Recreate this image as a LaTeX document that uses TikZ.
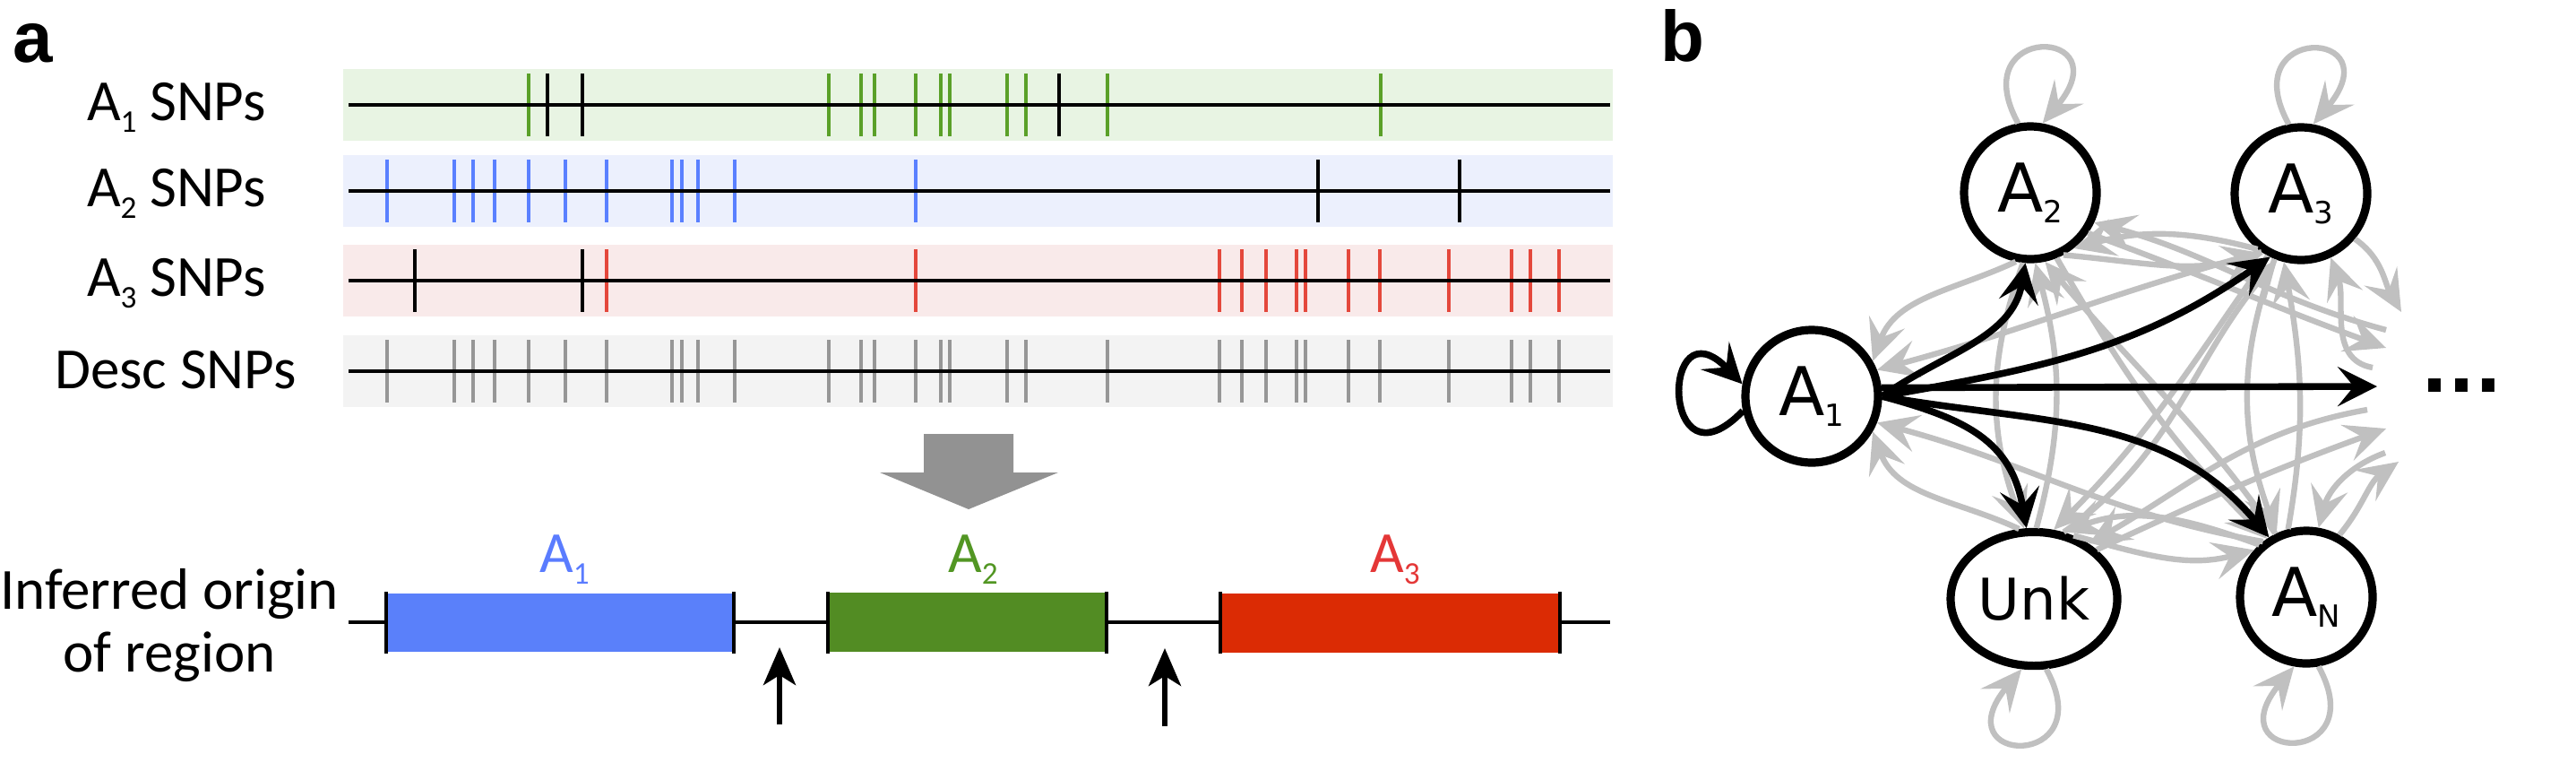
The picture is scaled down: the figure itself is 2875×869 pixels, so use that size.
\documentclass[tikz,border=0pt]{standalone}
\usepackage{fontspec}
\setmainfont{Carlito}
\newfontfamily\dvs{DejaVu Sans}
\newfontfamily\labfont{Liberation Sans}
\usetikzlibrary{arrows.meta,shapes.geometric}
\definecolor{bgG}{RGB}{232,244,227}
\definecolor{bgB}{RGB}{236,240,253}
\definecolor{bgR}{RGB}{249,234,234}
\definecolor{bgK}{RGB}{243,243,243}
\definecolor{tkG}{RGB}{90,160,40}
\definecolor{tkB}{RGB}{90,128,255}
\definecolor{tkR}{RGB}{228,72,60}
\definecolor{tkK}{RGB}{150,150,150}
\definecolor{boxB}{RGB}{90,128,250}
\definecolor{boxG}{RGB}{82,140,35}
\definecolor{boxR}{RGB}{219,43,4}
\definecolor{labB}{RGB}{90,124,255}
\definecolor{labG}{RGB}{82,150,35}
\definecolor{labR}{RGB}{228,55,55}
\definecolor{bigarrow}{RGB}{146,146,146}
\definecolor{edgegray}{RGB}{192,192,192}
\newcommand\asub[1]{\raisebox{-3.25pt}{\fontsize{8.8}{8.8}\selectfont #1}}
\newcommand\nsub[1]{\raisebox{-3pt}{\fontsize{8.5}{8.5}\selectfont #1}}
\tikzset{
  panellab/.style={anchor=base west, inner sep=0pt, font=\labfont\bfseries\fontsize{20}{20}\selectfont},
  rowlab/.style={anchor=base, inner sep=0pt, font=\fontsize{16.25}{17.5}\selectfont},
  tick/.style={line width=0.85pt},
  axisline/.style={line width=1.15pt},
  endtick/.style={line width=0.85pt},
  uparrow/.style={line width=1.5pt, -{Stealth[length=10.5pt,width=9pt,inset=2.75pt]}},
  st/.style={circle, draw, line width=2.3pt, fill=white, minimum size=37pt, inner sep=0pt, font=\dvs\fontsize{18.75}{18.75}\selectfont},
  stell/.style={ellipse, draw, line width=2.3pt, fill=white, minimum width=46.5pt, minimum height=37.3pt, inner sep=0pt, font=\dvs\fontsize{16}{16}\selectfont},
  bedge/.style={draw=black, line width=1.9pt, -{Stealth[length=11pt,width=11pt,inset=4.5pt]}},
  gedge/.style={draw=edgegray, line width=1.6pt, -{Stealth[length=11.5pt,width=10.5pt,inset=4.5pt]}},
}
\begin{document}
\begin{tikzpicture}[x=0.25pt,y=0.25pt]
\path[use as bounding box] (0,0) rectangle (2875,-869);

% ---------------- panel a ----------------
\node[panellab] (la) at (14,-69) {a};

\foreach \c/\y in {bgG/117, bgB/213, bgR/313, bgK/414}
  \fill[\c] (383,-\y+40) rectangle (1800,-\y-40);

% A1 row
\foreach \x in {590,925,961,976,1022,1050,1060,1124,1145,1236,1541}
  \draw[tick,tkG] (\x,-82) -- (\x,-152);
\foreach \x in {611,650,1182}
  \draw[tick,black] (\x,-82) -- (\x,-152);
% A2 row
\foreach \x in {432,507,528,552,590,631,677,750,761,779,820,1022}
  \draw[tick,tkB] (\x,-178) -- (\x,-248);
\foreach \x in {1471,1629}
  \draw[tick,black] (\x,-178) -- (\x,-248);
% A3 row
\foreach \x in {677,1022,1361,1386,1413,1447,1457,1505,1540,1617,1687,1708,1740}
  \draw[tick,tkR] (\x,-278) -- (\x,-348);
\foreach \x in {463,650}
  \draw[tick,black] (\x,-278) -- (\x,-348);
% Desc row
\foreach \x in {432,507,528,552,590,631,677,750,761,779,820,925,961,976,1022,1050,1060,1124,1145,1236,1361,1386,1413,1447,1457,1505,1540,1617,1687,1708,1740}
  \draw[tick,tkK] (\x,-379) -- (\x,-449);

\foreach \y in {117,213,313,414}
  \draw[axisline] (389,-\y) -- (1797,-\y);

\node[rowlab] (l1) at (197,-134) {A\asub{1} SNPs};
\node[rowlab] (l2) at (197,-230) {A\asub{2} SNPs};
\node[rowlab] (l3) at (197,-330) {A\asub{3} SNPs};
\node[rowlab] (l4) at (196,-433) {Desc SNPs};

% big grey arrow
\fill[bigarrow] (1031,-484) -- (1131,-484) -- (1131,-527) -- (1181,-527)
  -- (1081,-568) -- (982,-527) -- (1031,-527) -- cycle;

% inferred origin
\node[anchor=center, inner sep=0pt, align=center, font=\fontsize{16.25}{17.5}\selectfont] (inf) at (189,-697) {Inferred origin\\of region};
\draw[axisline] (389,-694) -- (1797,-694);
\fill[boxB] (431,-662) rectangle (819,-727);
\fill[boxG] (924,-661) rectangle (1235,-727);
\fill[boxR] (1362,-662) rectangle (1741,-728);
\foreach \x in {431,819,924,1235,1362,1741}
  \draw[endtick] (\x,-660) -- (\x,-729);
\node[rowlab, text=labB] (o1) at (630,-638) {A\asub{1}};
\node[rowlab, text=labG] (o2) at (1086,-638) {A\asub{2}};
\node[rowlab, text=labR] (o3) at (1557,-638) {A\asub{3}};

\coordinate (ar1s) at (870,-808);
\coordinate (ar1e) at (870,-722);
\coordinate (ar2s) at (1300,-810);
\coordinate (ar2e) at (1300,-723);
\draw[uparrow] (ar1s) -- (ar1e);
\draw[uparrow] (ar2s) -- (ar2e);

% ---------------- panel b ----------------
\node[panellab] (lb) at (1853,-68) {b};

\node[st] (A1) at (2022,-442) {A\nsub{1}};
\node[st] (A2) at (2266,-215) {A\nsub{2}};
\node[st] (A3) at (2568,-216) {A\nsub{3}};
\node[stell] (Unk) at (2270,-668) {Unk};
\node[st] (AN) at (2574,-666) {A\nsub{N}};
\node[anchor=base, inner sep=0pt, font=\dvs\bfseries\fontsize{19.75}{19.75}\selectfont] (dots) at (2747,-437) {...};

\coordinate (dend) at (2653,-431);
\coordinate (gA2o) at (2663,-388);
\coordinate (gA2i) at (2663,-368);
\coordinate (gA3o) at (2680,-348);
\coordinate (gA3i) at (2648,-410);
\coordinate (gUo) at (2663,-478);
\coordinate (gUi) at (2642,-457);
\coordinate (gNo) at (2677,-515);
\coordinate (gNi) at (2662,-505);

% grey self loops
\draw[gedge] (A2.100) .. controls +(-62,113) and +(90,108) .. (A2.80);
\draw[gedge] (A3.100) .. controls +(-62,113) and +(90,108) .. (A3.80);
\draw[gedge] (Unk.-80) .. controls +(62,-113) and +(-90,-108) .. (Unk.-100);
\draw[gedge] (AN.-80) .. controls +(62,-113) and +(-90,-108) .. (AN.-100);

% grey edges into A1
\draw[gedge] (A2.258) to[out=205,in=70] (A1.30);
\draw[gedge] (A3.236) to[out=195,in=15] (A1.22);
\draw[gedge] (Unk.102) to[out=155,in=-70] (A1.-30);
\draw[gedge] (AN.128) to[out=170,in=-15] (A1.-22);
% A2 - A3
\draw[gedge] (A3.232) to[out=165,in=15] (A2.-52);
\draw[gedge] (A2.-62) to[out=-5,in=195] (A3.238);
% A2 - Unk
\draw[gedge] (A2.264) to[out=250,in=110] (Unk.98);
\draw[gedge] (Unk.88) to[out=75,in=-75] (A2.274);
% A3 - AN
\draw[gedge] (A3.248) to[out=250,in=110] (AN.115);
\draw[gedge] (AN.105) to[out=80,in=-80] (A3.256);
% A2 - AN
\draw[gedge] (A2.-68) to[out=-60,in=135] (AN.124);
\draw[gedge] (AN.116) to[out=125,in=-50] (A2.-78);
% A3 - Unk
\draw[gedge] (A3.242) to[out=235,in=45] (Unk.74);
\draw[gedge] (Unk.66) to[out=35,in=230] (A3.250);
% Unk - AN
\draw[gedge] (Unk.58) to[out=-15,in=195] (AN.138);
\draw[gedge] (AN.132) to[out=160,in=20] (Unk.66);
% off to the right
\draw[gedge] (A2.-35) to[out=-20,in=160] (gA2o);
\draw[gedge] (gA2i) to[out=165,in=-15] (A2.-25);
\draw[gedge] (A3.-40) to[out=-35,in=120] (gA3o);
\draw[gedge] (gA3i) to[out=170,in=-70] (A3.-65);
\draw[gedge] (Unk.38) to[out=25,in=200] (gUo);
\draw[gedge] (gUi) to[out=190,in=30] (Unk.45);
\draw[gedge] (AN.62) to[out=50,in=215] (gNo);
\draw[gedge] (gNi) to[out=200,in=75] (AN.80);

% black edges from A1
\draw[bedge] (A1.192) .. controls +(-92,-95) and +(-92,95) .. (A1.170);
\draw[bedge] (A1.east) to[out=35,in=260] (A2.266);
\draw[bedge] (A1.east) to[out=10,in=215] (A3.244);
\draw[bedge] (A1.7) -- (dend);
\draw[bedge] (A1.east) to[out=-15,in=100,looseness=1.15] (Unk.96);
\draw[bedge] (A1.east) to[out=-10,in=130] (AN.122);
\end{tikzpicture}
\end{document}
